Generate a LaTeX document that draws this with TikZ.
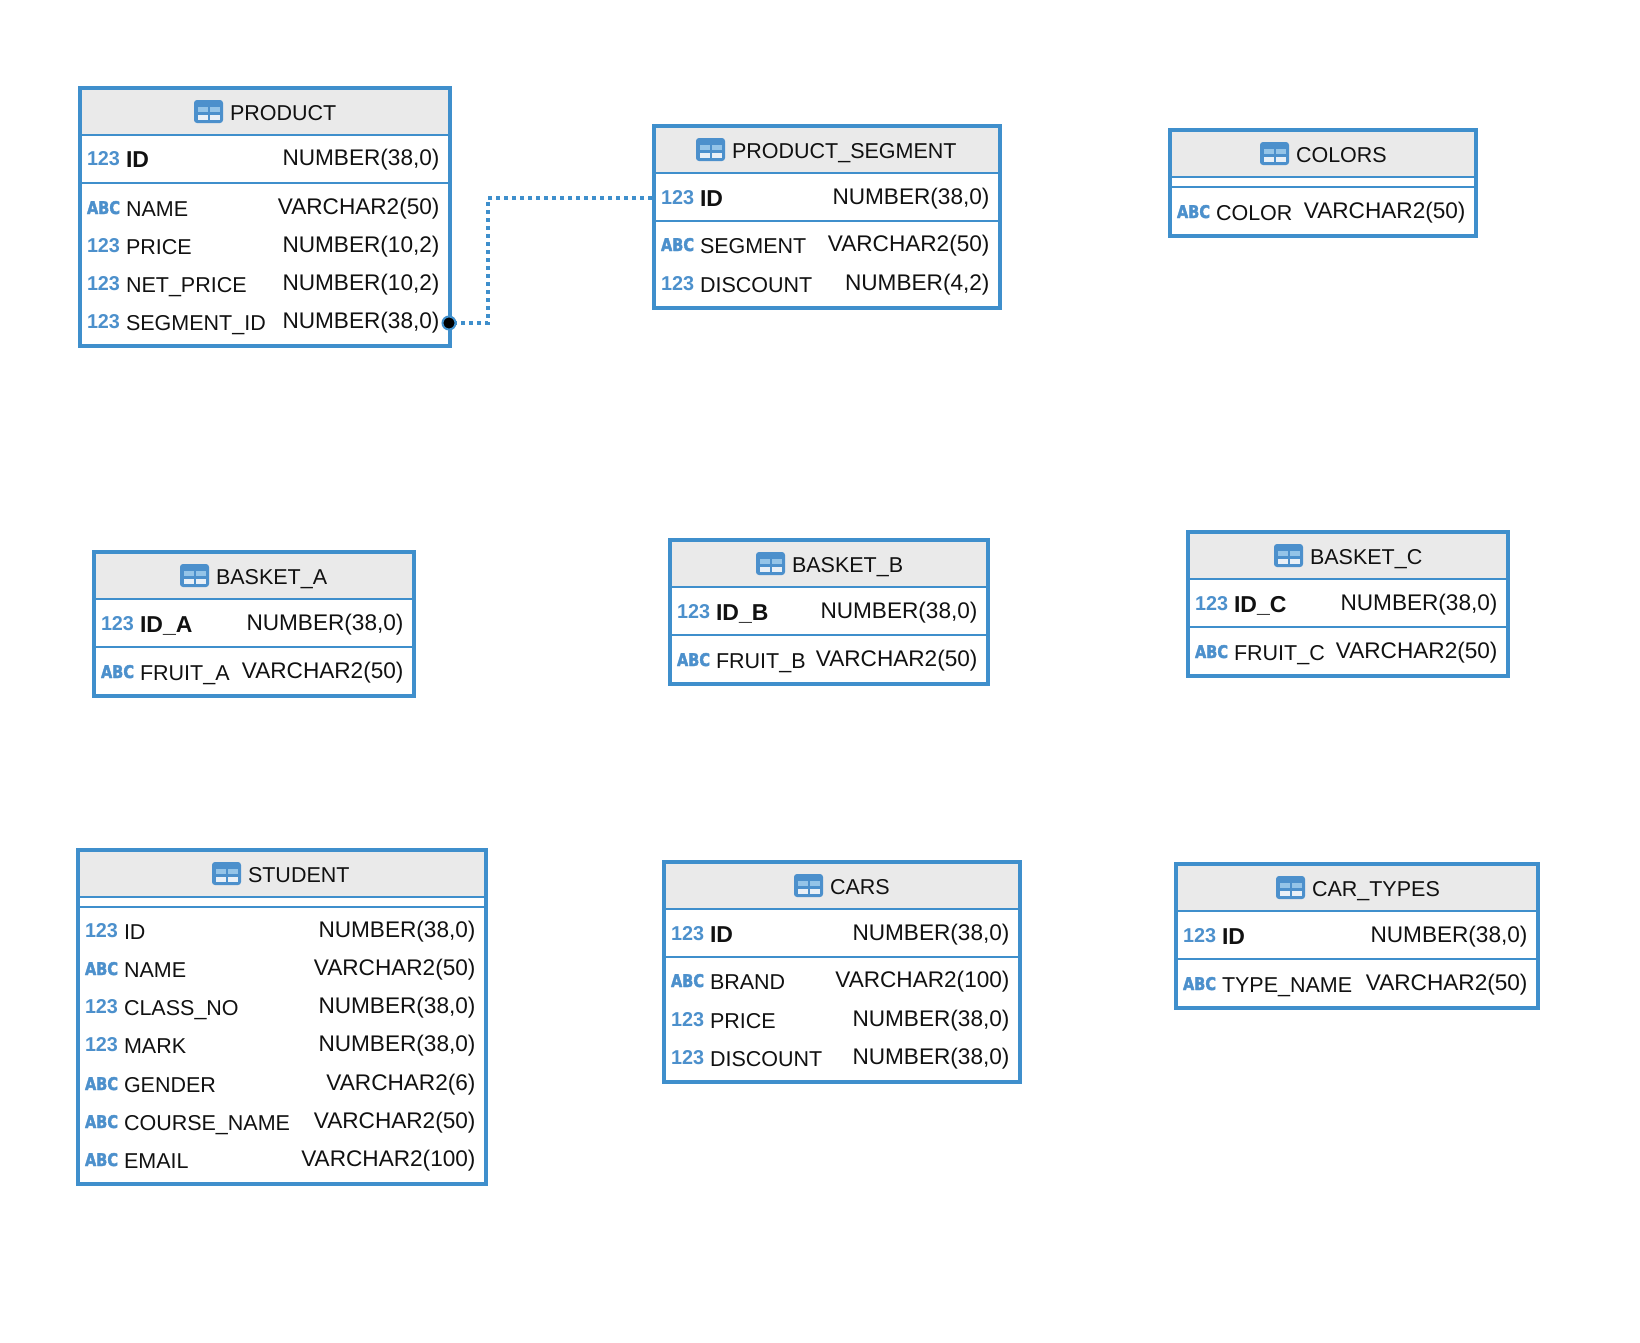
\documentclass[tikz,border=0pt]{standalone}
\usepackage{fontspec}
\usepackage{graphicx}
\setmainfont{Liberation Sans}
\newfontfamily\abcfont[FakeBold=2.5]{DejaVu Sans Bold}
\definecolor{erblue}{HTML}{3F8FCC}
\definecolor{ericon}{HTML}{4C90CC}
\definecolor{erhead}{HTML}{EAEAEA}
\definecolor{ertext}{HTML}{111111}
\definecolor{ercella}{HTML}{94C4E8}
\definecolor{ercellb}{HTML}{E9F0F7}
\tikzset{
  frame/.style={draw=erblue,line width=4pt,fill=white,rectangle,anchor=north west,inner sep=0pt,outer sep=0pt},
  sepline/.style={draw=erblue,line width=2pt},
  headfill/.style={fill=erhead,draw=none},
  titletext/.style={anchor=base west,inner sep=0pt,outer sep=0pt,text=ertext,font=\fontsize{21.5}{24}\selectfont},
  nametext/.style={anchor=base west,inner sep=0pt,outer sep=0pt,text=ertext,font=\fontsize{21.5}{24}\selectfont},
  typetext/.style={anchor=base east,inner sep=0pt,outer sep=0pt,text=ertext,font=\fontsize{22.6}{24}\selectfont},
  icontext/.style={anchor=base west,inner sep=0pt,outer sep=0pt,text=ericon},
  fkline/.style={draw=erblue,line width=4pt,dash pattern=on 4pt off 4pt,dash phase=6pt},
  fkdot/.style={circle,fill=black,draw=erblue,line width=2pt,minimum size=13pt,inner sep=0pt,outer sep=0pt}
}
\newcommand\numicon{\resizebox{33pt}{14pt}{\bfseries 123}}
\newcommand\abcicon{\resizebox{33pt}{13pt}{\abcfont ABC}}
\newcommand\keyname[1]{{\fontsize{23}{24}\selectfont\bfseries #1}}
% id, L, T, R, B, H, S, icon x, title
\newcommand\ertable[9]{%
  \node[frame,minimum width={(#4-#2)*1pt},minimum height={(#5-#3)*1pt}] (#1) at (#2,#3) {};
  \fill[headfill] (#2+2,#3+2) rectangle (#4-2,#6);
  \draw[sepline] (#2+2,#6) -- (#4-2,#6);
  \draw[sepline] (#2+2,#7) -- (#4-2,#7);
  \fill[ericon,rounded corners=3pt] (#8,#3+12) rectangle (#8+29,#3+35);
  \fill[ercella] (#8+3.5,#3+18.5) rectangle (#8+13.5,#3+23.5);
  \fill[ercella] (#8+16,#3+18.5) rectangle (#8+26,#3+23.5);
  \fill[ercellb] (#8+3.5,#3+27) rectangle (#8+13.5,#3+32);
  \fill[ercellb] (#8+16,#3+27) rectangle (#8+26,#3+32);
  \node[titletext] (#1-title) at (#8+36,#3+32) {#9};
}
% id, L, R, y, icon (123 or ABC macro), name, type
\newcommand\errow[7]{%
  \node[icontext] (#1-icon) at (#2+7,#4-2) {#5};
  \node[nametext] (#1-name) at (#2+46,#4) {#6};
  \node[typetext] (#1-type) at (#3-10.5,#4-1.5) {#7};
}
\begin{document}
\begin{tikzpicture}[x=1pt,y=-1pt]
\useasboundingbox (0,0) rectangle (1640,1342);
\fill[white] (0,0) rectangle (1640,1342);

\coordinate (bendlow) at (488,323);
\coordinate (bendhigh) at (488,198);
\coordinate (pk) at (654,198);

% PRODUCT
\ertable{product}{80}{88}{450}{346}{135}{183}{194}{PRODUCT}
\errow{p1}{80}{450}{167}{\numicon}{\keyname{ID}}{NUMBER(38,0)}
\errow{p2}{80}{450}{216}{\abcicon}{NAME}{VARCHAR2(50)}
\errow{p3}{80}{450}{254}{\numicon}{PRICE}{NUMBER(10,2)}
\errow{p4}{80}{450}{292}{\numicon}{NET\_PRICE}{NUMBER(10,2)}
\errow{p5}{80}{450}{330}{\numicon}{SEGMENT\_ID}{NUMBER(38,0)}

% PRODUCT_SEGMENT
\ertable{seg}{654}{126}{1000}{308}{173}{221}{696}{PRODUCT\_SEGMENT}
\errow{s1}{654}{1000}{206}{\numicon}{\keyname{ID}}{NUMBER(38,0)}
\errow{s2}{654}{1000}{253}{\abcicon}{SEGMENT}{VARCHAR2(50)}
\errow{s3}{654}{1000}{292}{\numicon}{DISCOUNT}{NUMBER(4,2)}

% COLORS
\ertable{colors}{1170}{130}{1476}{236}{177}{187}{1260}{COLORS}
\errow{c1}{1170}{1476}{220}{\abcicon}{COLOR}{VARCHAR2(50)}

% BASKET_A
\ertable{basketa}{94}{552}{414}{696}{599}{647}{180}{BASKET\_A}
\errow{a1}{94}{414}{632}{\numicon}{\keyname{ID\_A}}{NUMBER(38,0)}
\errow{a2}{94}{414}{680}{\abcicon}{FRUIT\_A}{VARCHAR2(50)}

% BASKET_B
\ertable{basketb}{670}{540}{988}{684}{587}{635}{756}{BASKET\_B}
\errow{b1}{670}{988}{620}{\numicon}{\keyname{ID\_B}}{NUMBER(38,0)}
\errow{b2}{670}{988}{668}{\abcicon}{FRUIT\_B}{VARCHAR2(50)}

% BASKET_C
\ertable{basketc}{1188}{532}{1508}{676}{579}{627}{1274}{BASKET\_C}
\errow{d1}{1188}{1508}{612}{\numicon}{\keyname{ID\_C}}{NUMBER(38,0)}
\errow{d2}{1188}{1508}{660}{\abcicon}{FRUIT\_C}{VARCHAR2(50)}

% STUDENT
\ertable{student}{78}{850}{486}{1184}{897}{907}{212}{STUDENT}
\errow{t1}{78}{486}{939}{\numicon}{ID}{NUMBER(38,0)}
\errow{t2}{78}{486}{977}{\abcicon}{NAME}{VARCHAR2(50)}
\errow{t3}{78}{486}{1015}{\numicon}{CLASS\_NO}{NUMBER(38,0)}
\errow{t4}{78}{486}{1053}{\numicon}{MARK}{NUMBER(38,0)}
\errow{t5}{78}{486}{1092}{\abcicon}{GENDER}{VARCHAR2(6)}
\errow{t6}{78}{486}{1130}{\abcicon}{COURSE\_NAME}{VARCHAR2(50)}
\errow{t7}{78}{486}{1168}{\abcicon}{EMAIL}{VARCHAR2(100)}

% CARS
\ertable{cars}{664}{862}{1020}{1082}{909}{957}{794}{CARS}
\errow{r1}{664}{1020}{942}{\numicon}{\keyname{ID}}{NUMBER(38,0)}
\errow{r2}{664}{1020}{989}{\abcicon}{BRAND}{VARCHAR2(100)}
\errow{r3}{664}{1020}{1028}{\numicon}{PRICE}{NUMBER(38,0)}
\errow{r4}{664}{1020}{1066}{\numicon}{DISCOUNT}{NUMBER(38,0)}

% CAR_TYPES
\ertable{cartypes}{1176}{864}{1538}{1008}{911}{959}{1276}{CAR\_TYPES}
\errow{y1}{1176}{1538}{944}{\numicon}{\keyname{ID}}{NUMBER(38,0)}
\errow{y2}{1176}{1538}{992}{\abcicon}{TYPE\_NAME}{VARCHAR2(50)}

% connector
\node[fkdot] (fk) at (449,323) {};
\draw[fkline] (pk) -- (bendhigh) -- (bendlow) -- (fk);
\end{tikzpicture}
\end{document}
